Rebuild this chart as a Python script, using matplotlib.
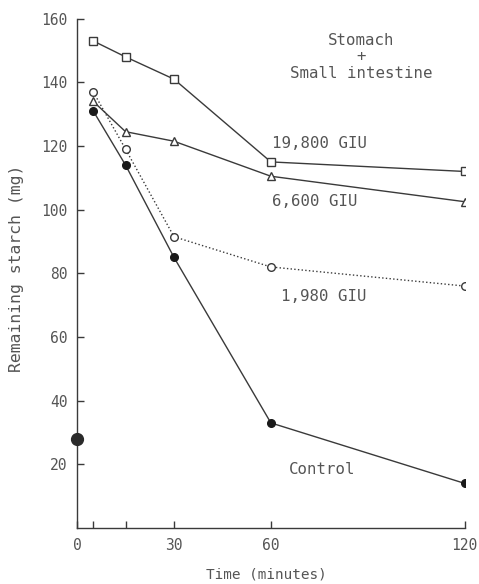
import matplotlib.pyplot as plt

# tiempos (min) y almidon remanente (mg)
tiempo = [5, 15, 30, 60, 120]
giu_19800 = [153, 148, 141, 115, 112]
giu_6600 = [134, 124.5, 121.5, 110.5, 102.5]
giu_1980 = [137, 119, 91.5, 82, 76]
control = [131, 114, 85, 33, 14]
control_t0 = 28  # punto inicial en t=0

xticks = [0, 5, 15, 30, 60, 120]
xticklabels = ["0", "", "", "30", "60", "120"]
yticks = [20, 40, 60, 80, 100, 120, 140, 160]

gris = "#3a3a3a"
gris_texto = "#555555"
plt.rcParams["font.family"] = "DejaVu Sans Mono"

fig = plt.figure(figsize=(4.79, 5.84), dpi=100)
ax = fig.add_axes([0.161, 0.096, 0.809, 0.872])

ax.plot(tiempo, giu_19800, color=gris, lw=1, marker="s", ms=5.5, mfc="white", mec=gris, mew=1)
ax.plot(tiempo, giu_6600, color=gris, lw=1, marker="^", ms=6, mfc="white", mec=gris, mew=1)
ax.plot(tiempo, giu_1980, color=gris, lw=1, ls=":", marker="o", ms=5.5, mfc="white", mec=gris, mew=1)
ax.plot(tiempo, control, color=gris, lw=1, marker="o", ms=5.5, mfc="#1a1a1a", mec="#1a1a1a")
ax.plot([0], [control_t0], marker="o", ms=8.5, color="#2a2a2a", clip_on=False, zorder=5)

# etiquetas de las curvas
ax.text(88, 148, "Stomach\n+\nSmall intestine", ha="center", va="center",
        fontsize=11.3, color=gris_texto, linespacing=1.1)
ax.text(75, 120.7, "19,800 GIU", ha="center", va="center", fontsize=11.3, color=gris_texto)
ax.text(73.5, 102.6, "6,600 GIU", ha="center", va="center", fontsize=11.3, color=gris_texto)
ax.text(76.5, 72.7, "1,980 GIU", ha="center", va="center", fontsize=11.3, color=gris_texto)
ax.text(76, 18.5, "Control", ha="center", va="center", fontsize=11.3, color=gris_texto)

ax.set_xlim(0, 120)
ax.set_ylim(0, 160)
ax.set_xticks(xticks)
ax.set_xticklabels(xticklabels)
ax.set_yticks(yticks)
ax.tick_params(direction="in", length=5, width=1, colors=gris, labelcolor=gris_texto,
               labelsize=10.5, pad=7)

for lado in ["top", "right"]:
    ax.spines[lado].set_visible(False)
for lado in ["left", "bottom"]:
    ax.spines[lado].set_color(gris)
    ax.spines[lado].set_linewidth(1)

ax.set_xlabel("Time (minutes)", fontsize=10.4, color=gris_texto)
ax.xaxis.set_label_coords(0.488, -0.078)
ax.set_ylabel("Remaining starch (mg)", fontsize=11.8, color=gris_texto)
ax.yaxis.set_label_coords(-0.138, 0.51)

fig.savefig("out.png", dpi=100)
